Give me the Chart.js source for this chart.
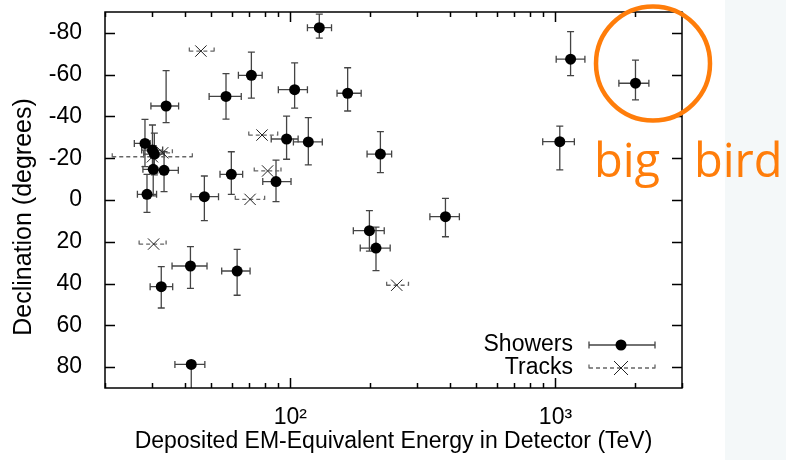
<!DOCTYPE html>
<html>
<head>
<meta charset="utf-8">
<script src="https://cdn.jsdelivr.net/npm/chart.js@4.4.0/dist/chart.umd.min.js"></script>
<style>
  html, body { margin: 0; padding: 0; background: #fff; }
  #wrap { width: 786px; height: 460px; }
</style>
</head>
<body>
<div id="wrap"><canvas id="myChart" width="786" height="460"></canvas></div>
<script>
// shower events: energy (TeV), declination (deg) and error bar ends
const showerE     = [128.6, 71.3, 57.2, 34.0, 103.8, 164.5, 96.8, 116.9, 218.6, 59.9, 88.3, 47.4, 28.8, 28.3, 30.2, 30.7, 30.4, 33.4, 32.6, 42.0, 63.0, 42.3, 384.6, 198.7, 210.4, 1140, 2003, 1038];
const showerDec   = [-82.5, -59.7, -49.6, -45.0, -52.8, -51.1, -29.2, -27.8, -22.0, -12.3, -8.8, -1.6, -2.7, -27.1, -23.9, -22.0, -14.7, -14.2, 41.5, 31.6, 34.0, 78.7, 8.0, 14.7, 23.0, -67.4, -55.9, -27.9];
const showerELo   = [116, 63.7, 49.4, 29.8, 90.1, 150, 84.7, 102.7, 194.7, 54.3, 78.7, 42.2, 26.5, 25.8, 27.5, 28.0, 27.8, 31.6, 29.6, 35.8, 55.1, 36.7, 336, 172.8, 183.5, 1006, 1734, 895];
const showerEHi   = [143, 78.3, 65.3, 37.9, 116, 185, 107, 132, 241, 66.1, 100.6, 53.6, 31.3, 29.6, 33.0, 33.5, 33.3, 37.8, 36.0, 48.5, 70.5, 47.6, 434, 226, 238, 1291, 2250, 1178];
const showerDecLo = [-89, -70.8, -60.5, -61.9, -65.6, -63.3, -40.2, -39.4, -32.7, -23.1, -19.1, -11.5, -12.3, -38.6, -35.9, -32, -26, -23.1, 31.9, 22.3, 23.6, 77, -0.8, 5.1, 13, -80.6, -67, -35.4];
const showerDecHi = [-77.5, -48.8, -38.7, -37.0, -44.0, -42.6, -19.5, -16.8, -13.1, -2.7, 0.8, 9.9, 5.9, -16, -14, -12, -2, -4, 51.7, 42.3, 45.6, 92, 17.6, 24.5, 33.8, -59.5, -47.9, -14.4];

// track events
const trackE     = [46.0, 78.2, 82.1, 70.5, 30.5, 251.9, 30.2, 33.0];
const trackDec   = [-71.3, -31.1, -13.9, -0.3, 21.1, 40.8, -20.7, -22.6];
const trackELo   = [41.6, 69.7, 73.1, 62.0, 26.9, 230.8, 21.3, 30.1];
const trackEHi   = [51.6, 89.6, 92.2, 80.0, 34.0, 279.0, 42.7, 35.9];
const trackDecLo = [-72.3, -32.1, -14.9, -1.3, 20.1, 39.8, -21.7, -23.6];
const trackDecHi = [-70.3, -30.1, -12.9, 0.7, 22.1, 41.8, -19.7, -21.6];

const xTickValues = [20, 30, 40, 50, 60, 70, 80, 90, 100, 200, 300, 400, 500, 600, 700, 800, 900, 1000, 2000, 3000];
const xTickLabels = { 100: '10²', 1000: '10³' };
const yTickValues = [-80, -60, -40, -20, 0, 20, 40, 60, 80];

const FONT = 'Liberation Sans';
const ORANGE = '#ff7d0a';

const showerPoints = showerE.map((e, i) => ({ x: e, y: showerDec[i] }));
const trackPoints = trackE.map((e, i) => ({ x: e, y: trackDec[i] }));

function errBar(ctx, xs, ys, x, y, xlo, xhi, ylo, yhi) {
    const px = xs.getPixelForValue(x), py = ys.getPixelForValue(y);
    const x1 = xs.getPixelForValue(xlo), x2 = xs.getPixelForValue(xhi);
    const y1 = ys.getPixelForValue(ylo), y2 = ys.getPixelForValue(yhi);
    const c = 3.5;
    ctx.beginPath();
    ctx.moveTo(x1, py); ctx.lineTo(x2, py);
    ctx.moveTo(x1, py - c); ctx.lineTo(x1, py + c);
    ctx.moveTo(x2, py - c); ctx.lineTo(x2, py + c);
    if (Math.abs(y2 - y1) > 6) {
        ctx.moveTo(px, y1); ctx.lineTo(px, y2);
        ctx.moveTo(px - c, y1); ctx.lineTo(px + c, y1);
        ctx.moveTo(px - c, y2); ctx.lineTo(px + c, y2);
    }
    ctx.stroke();
}

function noPad(scale) {
    scale.paddingTop = 0;
    scale.paddingBottom = 0;
    scale.paddingLeft = 0;
    scale.paddingRight = 0;
}

const errorBars = {
    id: 'errorBars',
    beforeDraw(chart) {
        const ctx = chart.ctx;
        ctx.save();
        ctx.fillStyle = '#ffffff';
        ctx.fillRect(0, 0, chart.width, chart.height);
        ctx.fillStyle = '#f4f8f9';
        ctx.fillRect(725, 0, chart.width - 725, chart.height);
        ctx.restore();
    },
    beforeDatasetsDraw(chart) {
        const ctx = chart.ctx, a = chart.chartArea;
        const xs = chart.scales.x, ys = chart.scales.y;
        ctx.save();
        ctx.beginPath();
        ctx.rect(a.left, a.top, a.right - a.left, a.bottom - a.top);
        ctx.clip();
        ctx.lineWidth = 1.3;
        ctx.strokeStyle = '#444';
        showerE.forEach((e, i) => errBar(ctx, xs, ys, e, showerDec[i], showerELo[i], showerEHi[i], showerDecLo[i], showerDecHi[i]));
        ctx.setLineDash([4, 3]);
        ctx.strokeStyle = '#666';
        trackE.forEach((e, i) => errBar(ctx, xs, ys, e, trackDec[i], trackELo[i], trackEHi[i], trackDecLo[i], trackDecHi[i]));
        ctx.restore();
    },
    afterDraw(chart) {
        const ctx = chart.ctx, a = chart.chartArea;
        const xs = chart.scales.x, ys = chart.scales.y;
        ctx.save();
        ctx.strokeStyle = '#000';
        ctx.lineWidth = 1.5;
        ctx.beginPath();
        yTickValues.forEach(v => {
            const p = Math.round(ys.getPixelForValue(v)) + 0.5;
            ctx.moveTo(a.left, p); ctx.lineTo(a.left + 10, p);
            ctx.moveTo(a.right, p); ctx.lineTo(a.right - 10, p);
        });
        xTickValues.forEach(v => {
            const p = Math.round(xs.getPixelForValue(v)) + 0.5;
            const len = xTickLabels[v] ? 10 : 5;
            ctx.moveTo(p, a.bottom); ctx.lineTo(p, a.bottom - len);
            ctx.moveTo(p, a.top); ctx.lineTo(p, a.top + len);
        });
        ctx.stroke();
        ctx.strokeRect(a.left, a.top, a.right - a.left, a.bottom - a.top);

        // y axis title
        ctx.fillStyle = '#000';
        ctx.font = '25px "' + FONT + '"';
        ctx.textAlign = 'center';
        ctx.textBaseline = 'middle';
        ctx.translate(24, 217);
        ctx.rotate(-Math.PI / 2);
        ctx.fillText('Declination (degrees)', 0, 0);
        ctx.setTransform(1, 0, 0, 1, 0, 0);

        // legend
        ctx.font = '23px "' + FONT + '"';
        ctx.textAlign = 'right';
        ctx.fillText('Showers', 573, 345);
        ctx.fillText('Tracks', 573, 368);
        ctx.lineWidth = 1.3;
        ctx.strokeStyle = '#444';
        ctx.beginPath();
        ctx.moveTo(589, 345); ctx.lineTo(655, 345);
        ctx.moveTo(589, 341.5); ctx.lineTo(589, 348.5);
        ctx.moveTo(655, 341.5); ctx.lineTo(655, 348.5);
        ctx.stroke();
        ctx.beginPath();
        ctx.arc(621, 345, 5.5, 0, Math.PI * 2);
        ctx.fill();
        ctx.setLineDash([4, 3]);
        ctx.strokeStyle = '#666';
        ctx.beginPath();
        ctx.moveTo(589, 368); ctx.lineTo(655, 368);
        ctx.moveTo(589, 364.5); ctx.lineTo(589, 371.5);
        ctx.moveTo(655, 364.5); ctx.lineTo(655, 371.5);
        ctx.stroke();
        ctx.setLineDash([]);
        ctx.strokeStyle = '#222';
        ctx.lineWidth = 1;
        ctx.beginPath();
        ctx.moveTo(614, 361); ctx.lineTo(628, 375);
        ctx.moveTo(628, 361); ctx.lineTo(614, 375);
        ctx.stroke();

        // big bird annotation
        ctx.strokeStyle = ORANGE;
        ctx.lineWidth = 4.5;
        ctx.beginPath();
        ctx.arc(653, 63.5, 57, 0, Math.PI * 2);
        ctx.stroke();
        ctx.fillStyle = ORANGE;
        ctx.font = '47px "Open Sans"';
        ctx.textAlign = 'left';
        ctx.textBaseline = 'alphabetic';
        ctx.fillText('big', 594, 177);
        ctx.fillText('bird', 694, 177);
        ctx.restore();
    }
};

const ctx = document.getElementById('myChart');

new Chart(ctx, {
    type: 'scatter',
    data: {
        datasets: [{
            label: 'Showers',
            data: showerPoints,
            pointStyle: 'circle',
            pointRadius: 5.5,
            pointHoverRadius: 5.5,
            backgroundColor: '#000',
            borderColor: '#000',
            borderWidth: 0
        }, {
            label: 'Tracks',
            data: trackPoints,
            pointStyle: 'crossRot',
            pointRadius: 8,
            pointHoverRadius: 8,
            borderColor: '#222',
            borderWidth: 1
        }]
    },
    options: {
        responsive: false,
        animation: false,
        layout: { padding: { left: 0, right: 104, top: 12, bottom: 0 } },
        plugins: {
            legend: { display: false },
            tooltip: { enabled: false }
        },
        scales: {
            x: {
                type: 'logarithmic',
                min: 20,
                max: 3000,
                grid: { display: false },
                border: { display: false },
                afterBuildTicks: scale => { scale.ticks = xTickValues.map(v => ({ value: v })); },
                afterFit: scale => { scale.height = 72; noPad(scale); },
                ticks: {
                    autoSkip: false,
                    maxRotation: 0,
                    padding: 8,
                    color: '#000',
                    font: { family: FONT, size: 23 },
                    callback: v => xTickLabels[v] || ''
                },
                title: {
                    display: true,
                    text: 'Deposited EM-Equivalent Energy in Detector (TeV)',
                    color: '#000',
                    font: { family: FONT, size: 23 },
                    padding: { top: 0, bottom: 5 }
                }
            },
            y: {
                type: 'linear',
                min: -90,
                max: 90,
                reverse: true,
                grid: { display: false },
                border: { display: false },
                afterBuildTicks: scale => { scale.ticks = yTickValues.map(v => ({ value: v })); },
                afterFit: scale => { scale.width = 105; noPad(scale); },
                ticks: {
                    padding: 15,
                    color: '#000',
                    font: { family: FONT, size: 23 }
                },
                title: { display: false }
            }
        }
    },
    plugins: [errorBars]
});
</script>
</body>
</html>
